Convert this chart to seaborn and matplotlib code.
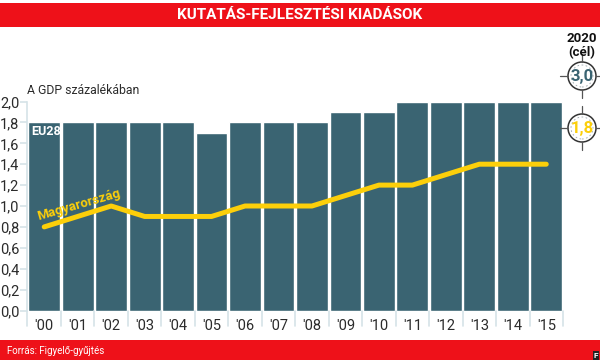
#!/usr/bin/env python3
import pandas as pd
import seaborn as sns
import matplotlib.pyplot as plt
from matplotlib.patches import Ellipse, Rectangle
from matplotlib.lines import Line2D

# === 1. Data ===
years = ["'00", "'01", "'02", "'03", "'04", "'05", "'06", "'07",
         "'08", "'09", "'10", "'11", "'12", "'13", "'14", "'15"]
eu28 = [1.8, 1.8, 1.8, 1.8, 1.8, 1.7, 1.8, 1.8,
        1.8, 1.9, 1.9, 2.0, 2.0, 2.0, 2.0, 2.0]
hungary = [0.8, 0.9, 1.0, 0.9, 0.9, 0.9, 1.0, 1.0,
           1.0, 1.1, 1.2, 1.2, 1.3, 1.4, 1.4, 1.4]
y_ticks = [0.0, 0.2, 0.4, 0.6, 0.8, 1.0, 1.2, 1.4, 1.6, 1.8, 2.0]
y_labels = ["0,0", "0,2", "0,4", "0,6", "0,8", "1,0", "1,2", "1,4", "1,6", "1,8", "2,0"]

df = pd.DataFrame({"year": years, "eu28": eu28, "hungary": hungary})

TEAL = "#3a6472"
YELLOW = "#fccf0a"
RED = "#ee1119"
AXIS = "#d5e3e8"
DARK = "#2b2b2b"

W, H = 600, 364
sns.set_theme(style="white")
plt.rcParams["font.family"] = ["Roboto", "DejaVu Sans"]

fig = plt.figure(figsize=(W / 100, H / 100), dpi=100)
ax = fig.add_axes([27.5 / W, 1 - 310.5 / H, (563 - 27.5) / W, (310.5 - 101.5) / H])


def fx(x):
    return x / W


def fy(y):
    return 1 - y / H


# === 2. Bars and line ===
sns.barplot(data=df, x="year", y="eu28", color=TEAL, saturation=1, width=0.95, ax=ax)
sns.lineplot(data=df, x="year", y="hungary", color=YELLOW, linewidth=3.6, ax=ax,
             solid_capstyle="round", solid_joinstyle="round", errorbar=None)
ax.set_xlim(-0.5, 15.5)
ax.set_ylim(0, 2.0)
ax.set_xlabel("")
ax.set_ylabel("")
ax.set_yticks(y_ticks)
ax.set_yticklabels(y_labels, fontsize=10.5, color=DARK)
ax.tick_params(axis="y", length=5, width=1.2, color=AXIS, pad=1, left=True)
ax.tick_params(axis="x", length=0, labelsize=10.5, labelcolor=DARK, pad=6)
sns.despine(ax=ax, right=True, top=True, bottom=True)
ax.spines["left"].set_color(AXIS)
ax.spines["left"].set_linewidth(1.2)

# separators under the axis
for i in range(17):
    xp = 27.5 + i * (563 - 27.5) / 16
    fig.add_artist(Line2D([fx(xp), fx(xp)], [fy(310.5), fy(326)], color=AXIS, lw=1.2))

fig.text(fx(31), fy(131), "EU28", color="white", fontsize=9, fontweight="bold",
         ha="left", va="center")
ax.text(1.04, 1.01, "Magyarország", color=YELLOW, fontsize=9.5, fontweight="bold",
        ha="center", va="center", rotation=16, rotation_mode="anchor")
fig.text(fx(27), fy(90), "A GDP százalékában", color=DARK, fontsize=8.8, ha="left", va="center")

# === 3. Header and footer ===
fig.add_artist(Rectangle((0, fy(27)), 1, 24 / H, transform=fig.transFigure, color=RED, lw=0))
fig.add_artist(Rectangle((0, fy(360)), 1, 20 / H, transform=fig.transFigure, color=RED, lw=0))
fig.text(0.5, fy(15), "KUTATÁS-FEJLESZTÉSI KIADÁSOK", color="white", fontsize=11,
         fontweight="bold", ha="center", va="center")
fig.text(fx(7), fy(351), "Forrás: Figyelő-gyűjtés", color="white", fontsize=7,
         ha="left", va="center")
fig.add_artist(Rectangle((fx(593), fy(360)), 6 / W, 9 / H, transform=fig.transFigure,
                         color="#222222", lw=0))
fig.text(fx(596), fy(355.5), "F", color="white", fontsize=6, fontweight="bold",
         ha="center", va="center")

# === 4. Target markers ===
fig.text(fx(582), fy(38), "2020", color="#111111", fontsize=9.5, fontweight="bold",
         ha="center", va="center")
fig.text(fx(582), fy(53), "(cél)", color="#111111", fontsize=9.5, fontweight="bold",
         ha="center", va="center")


def target(cy, label, color):
    cx = 582
    fig.add_artist(Ellipse((fx(cx), fy(cy)), 28 / W, 28 / H, transform=fig.transFigure,
                           fc="white", ec="#333333", lw=1.1))
    fig.add_artist(Ellipse((fx(cx), fy(cy)), 22 / W, 22 / H, transform=fig.transFigure,
                           fc="none", ec="#9aa5aa", lw=0.6, ls=(0, (2, 3))))
    for x0, y0, x1, y1 in [(cx - 22, cy, cx - 14, cy), (cx + 14, cy, cx + 22, cy),
                           (cx, cy - 22, cx, cy - 14), (cx, cy + 14, cx, cy + 22)]:
        fig.add_artist(Line2D([fx(x0), fx(x1)], [fy(y0), fy(y1)], color="#555555", lw=0.9))
    fig.text(fx(cx), fy(cy), label, color=color, fontsize=12, fontweight="bold",
             ha="center", va="center")


target(76, "3,0", TEAL)
target(128, "1,8", YELLOW)

plt.savefig("out.png", dpi=100)
